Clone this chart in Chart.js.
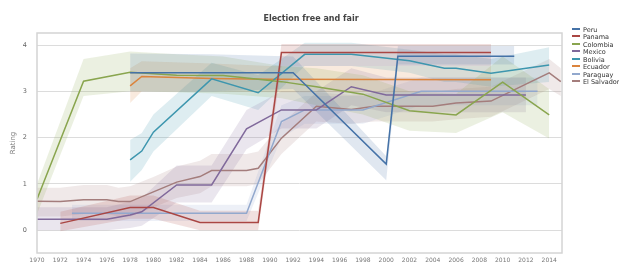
<!DOCTYPE html>
<html>
<head>
<meta charset="utf-8">
<script src="https://cdn.jsdelivr.net/npm/chart.js@4/dist/chart.umd.min.js"></script>
<style>
  body { margin: 0; background: #fff; }
  #wrap { position: relative; width: 619px; height: 264px; font-family: "DejaVu Sans", Verdana, sans-serif; }
  #title { position: absolute; left: 0; width: 622px; top: 14px; text-align: center; font-size: 8px; font-weight: bold; color: #444; }
  #legend { position: absolute; left: 572px; top: 26.5px; font-size: 6.5px; color: #333; }
  #legend div { height: 7.5px; line-height: 7.5px; white-space: nowrap; }
  #legend span { display: inline-block; width: 8px; height: 2px; vertical-align: middle; margin-right: 3px; position: relative; top: -1px; }
</style>
</head>
<body>
<div id="wrap">
  <canvas id="chart" width="619" height="264"></canvas>
  <div id="title">Election free and fair</div>
  <div id="legend"></div>
</div>
<script>
const xTicks = [1970,1972,1974,1976,1978,1980,1982,1984,1986,1988,1990,1992,1994,1996,1998,2000,2002,2004,2006,2008,2010,2012,2014];
const yTicks = [0, 1, 2, 3, 4];

const peruYears = [1978, 1985, 1992, 2000, 2001, 2006, 2011];
const peruVals  = [3.40, 3.40, 3.40, 1.43, 3.76, 3.76, 3.76];
const peruLo    = [3.00, 3.00, 3.05, 1.08, 3.58, 3.58, 3.58];
const peruHi    = [3.82, 3.80, 3.75, 1.60, 3.98, 3.98, 3.98];

const panamaYears = [1972, 1978, 1980, 1984, 1989, 1991, 2009];
const panamaVals  = [0.15, 0.49, 0.49, 0.17, 0.17, 3.84, 3.84];
const panamaLo    = [-0.02, 0.25, 0.25, 0.00, 0.00, 3.55, 3.55];
const panamaHi    = [0.40, 0.75, 0.75, 0.42, 0.42, 4.02, 4.02];

const colombiaYears = [1970, 1974, 1978, 1982, 1986, 1991, 1994, 1998, 2002, 2006, 2010, 2014];
const colombiaVals  = [0.67, 3.22, 3.41, 3.35, 3.34, 3.21, 3.10, 2.94, 2.58, 2.49, 3.20, 2.49];
const colombiaLo    = [0.35, 2.90, 3.00, 2.98, 2.95, 2.85, 2.70, 2.50, 2.15, 2.10, 2.55, 1.98];
const colombiaHi    = [1.00, 3.70, 3.86, 3.80, 3.75, 3.55, 3.50, 3.35, 3.00, 2.95, 3.75, 3.05];

const mexicoYears = [1970, 1976, 1978, 1979, 1982, 1985, 1988, 1991, 1994, 1997, 2000, 2012];
const mexicoVals  = [0.24, 0.24, 0.33, 0.40, 0.98, 0.98, 2.19, 2.60, 2.60, 3.10, 2.92, 2.92];
const mexicoLo    = [0.00, 0.00, 0.05, 0.10, 0.60, 0.60, 1.75, 2.20, 2.20, 2.70, 2.55, 2.55];
const mexicoHi    = [0.50, 0.50, 0.62, 0.70, 1.40, 1.40, 2.60, 3.00, 3.00, 3.50, 3.30, 3.30];

const boliviaYears = [1978, 1979, 1980, 1985, 1989, 1993, 1997, 2002, 2005, 2006, 2009, 2014];
const boliviaVals  = [1.52, 1.71, 2.12, 3.27, 2.97, 3.80, 3.80, 3.66, 3.50, 3.50, 3.39, 3.57];
const boliviaLo    = [1.05, 1.30, 1.70, 2.90, 2.60, 3.55, 3.55, 3.40, 3.20, 3.20, 3.10, 3.20];
const boliviaHi    = [1.95, 2.10, 2.50, 3.62, 3.35, 4.05, 4.05, 3.90, 3.80, 3.80, 3.70, 3.95];

const ecuadorYears = [1978, 1979, 1985, 1990, 2009];
const ecuadorVals  = [3.12, 3.32, 3.28, 3.26, 3.25];
const ecuadorLo    = [2.75, 3.00, 3.00, 2.98, 2.98];
const ecuadorHi    = [3.50, 3.65, 3.60, 3.55, 3.55];

const paraguayYears = [1973, 1988, 1991, 1993, 1998, 2003, 2013];
const paraguayVals  = [0.37, 0.37, 2.35, 2.60, 2.60, 3.00, 3.00];
const paraguayLo    = [0.20, 0.20, 2.00, 2.30, 2.30, 2.70, 2.70];
const paraguayHi    = [0.55, 0.55, 2.70, 2.90, 2.90, 3.30, 3.30];

const salvadorYears = [1970, 1972, 1974, 1976, 1977, 1978, 1980, 1982, 1984, 1985, 1988, 1989, 1991, 1994, 1997, 1999, 2004, 2006, 2009, 2014, 2015];
const salvadorVals  = [0.63, 0.62, 0.66, 0.66, 0.62, 0.62, 0.83, 1.04, 1.16, 1.29, 1.29, 1.34, 1.99, 2.68, 2.61, 2.68, 2.68, 2.75, 2.79, 3.40, 3.21];
const salvadorLo    = [0.30, 0.30, 0.35, 0.35, 0.30, 0.30, 0.50, 0.70, 0.80, 0.95, 0.95, 1.00, 1.65, 2.35, 2.30, 2.35, 2.35, 2.40, 2.45, 3.05, 2.90];
const salvadorHi    = [0.92, 0.92, 0.98, 0.98, 0.92, 0.95, 1.15, 1.38, 1.50, 1.65, 1.65, 1.70, 2.30, 2.98, 2.92, 2.98, 2.98, 3.05, 3.10, 3.70, 3.50];

const series = [
    { name: 'Peru',        color: '#4572A7', years: peruYears,     vals: peruVals,     lo: peruLo,     hi: peruHi },
    { name: 'Panama',      color: '#AA4643', years: panamaYears,   vals: panamaVals,   lo: panamaLo,   hi: panamaHi },
    { name: 'Colombia',    color: '#89A54E', years: colombiaYears, vals: colombiaVals, lo: colombiaLo, hi: colombiaHi },
    { name: 'Mexico',      color: '#80699B', years: mexicoYears,   vals: mexicoVals,   lo: mexicoLo,   hi: mexicoHi },
    { name: 'Bolivia',     color: '#3D96AE', years: boliviaYears,  vals: boliviaVals,  lo: boliviaLo,  hi: boliviaHi },
    { name: 'Ecuador',     color: '#DB843D', years: ecuadorYears,  vals: ecuadorVals,  lo: ecuadorLo,  hi: ecuadorHi },
    { name: 'Paraguay',    color: '#92A8CD', years: paraguayYears, vals: paraguayVals, lo: paraguayLo, hi: paraguayHi },
    { name: 'El Salvador', color: '#A47D7C', years: salvadorYears, vals: salvadorVals, lo: salvadorLo, hi: salvadorHi }
];

const pts = (xs, ys) => xs.map((x, i) => ({ x, y: ys[i] }));
const alpha = (hex, a) => {
    const n = parseInt(hex.slice(1), 16);
    return 'rgba(' + (n >> 16) + ',' + ((n >> 8) & 255) + ',' + (n & 255) + ',' + a + ')';
};

const datasets = [];
series.forEach(s => {
    datasets.push({ label: s.name + ' lo', data: pts(s.years, s.lo), borderWidth: 0, pointRadius: 0, fill: false, order: 2 });
    datasets.push({ label: s.name + ' hi', data: pts(s.years, s.hi), borderWidth: 0, pointRadius: 0, fill: '-1', backgroundColor: alpha(s.color, 0.17), order: 2 });
});
series.forEach(s => {
    datasets.push({ label: s.name, data: pts(s.years, s.vals), borderColor: s.color, borderWidth: 1.5, pointRadius: 0, fill: false, order: 1 });
});

// light grey box round the plot area
const frame = {
    id: 'frame',
    afterDraw(chart) {
        const { ctx, chartArea: a } = chart;
        ctx.save();
        ctx.strokeStyle = '#d4d4d4';
        ctx.lineWidth = 1.5;
        ctx.strokeRect(a.left, a.top, a.right - a.left, a.bottom - a.top);
        ctx.restore();
    }
};

new Chart(document.getElementById('chart'), {
    type: 'line',
    data: { datasets },
    plugins: [frame],
    options: {
        responsive: false,
        animation: false,
        layout: { padding: { left: 0, right: 57, top: 33, bottom: 0 } },
        scales: {
            x: {
                type: 'linear', min: 1970, max: 2015.1,
                afterBuildTicks: sc => { sc.ticks = xTicks.map(v => ({ value: v })); },
                afterFit: sc => { sc.height = 11; sc.paddingLeft = 0; sc.paddingRight = 0; },
                grid: { display: false, drawTicks: false },
                border: { display: false },
                ticks: { autoSkip: false, maxRotation: 0, padding: 4, color: '#777', font: { family: 'DejaVu Sans', size: 6 }, callback: v => String(v) }
            },
            y: {
                min: -0.49, max: 4.26,
                afterBuildTicks: sc => { sc.ticks = yTicks.map(v => ({ value: v })); },
                afterFit: sc => { sc.width = 37; sc.paddingTop = 0; sc.paddingBottom = 0; },
                grid: { color: '#dcdcdc', lineWidth: 1, drawTicks: false },
                border: { display: false },
                title: { display: true, text: 'Rating', color: '#777', font: { family: 'DejaVu Sans', size: 7 }, padding: { top: 9, bottom: 0 } },
                ticks: { padding: 10, color: '#666', font: { family: 'DejaVu Sans', size: 6.5 } }
            }
        },
        plugins: { legend: { display: false }, tooltip: { enabled: false }, title: { display: false } }
    }
});

document.getElementById('legend').innerHTML = series
    .map(s => '<div><span style="background:' + s.color + '"></span>' + s.name + '</div>')
    .join('');
</script>
</body>
</html>
